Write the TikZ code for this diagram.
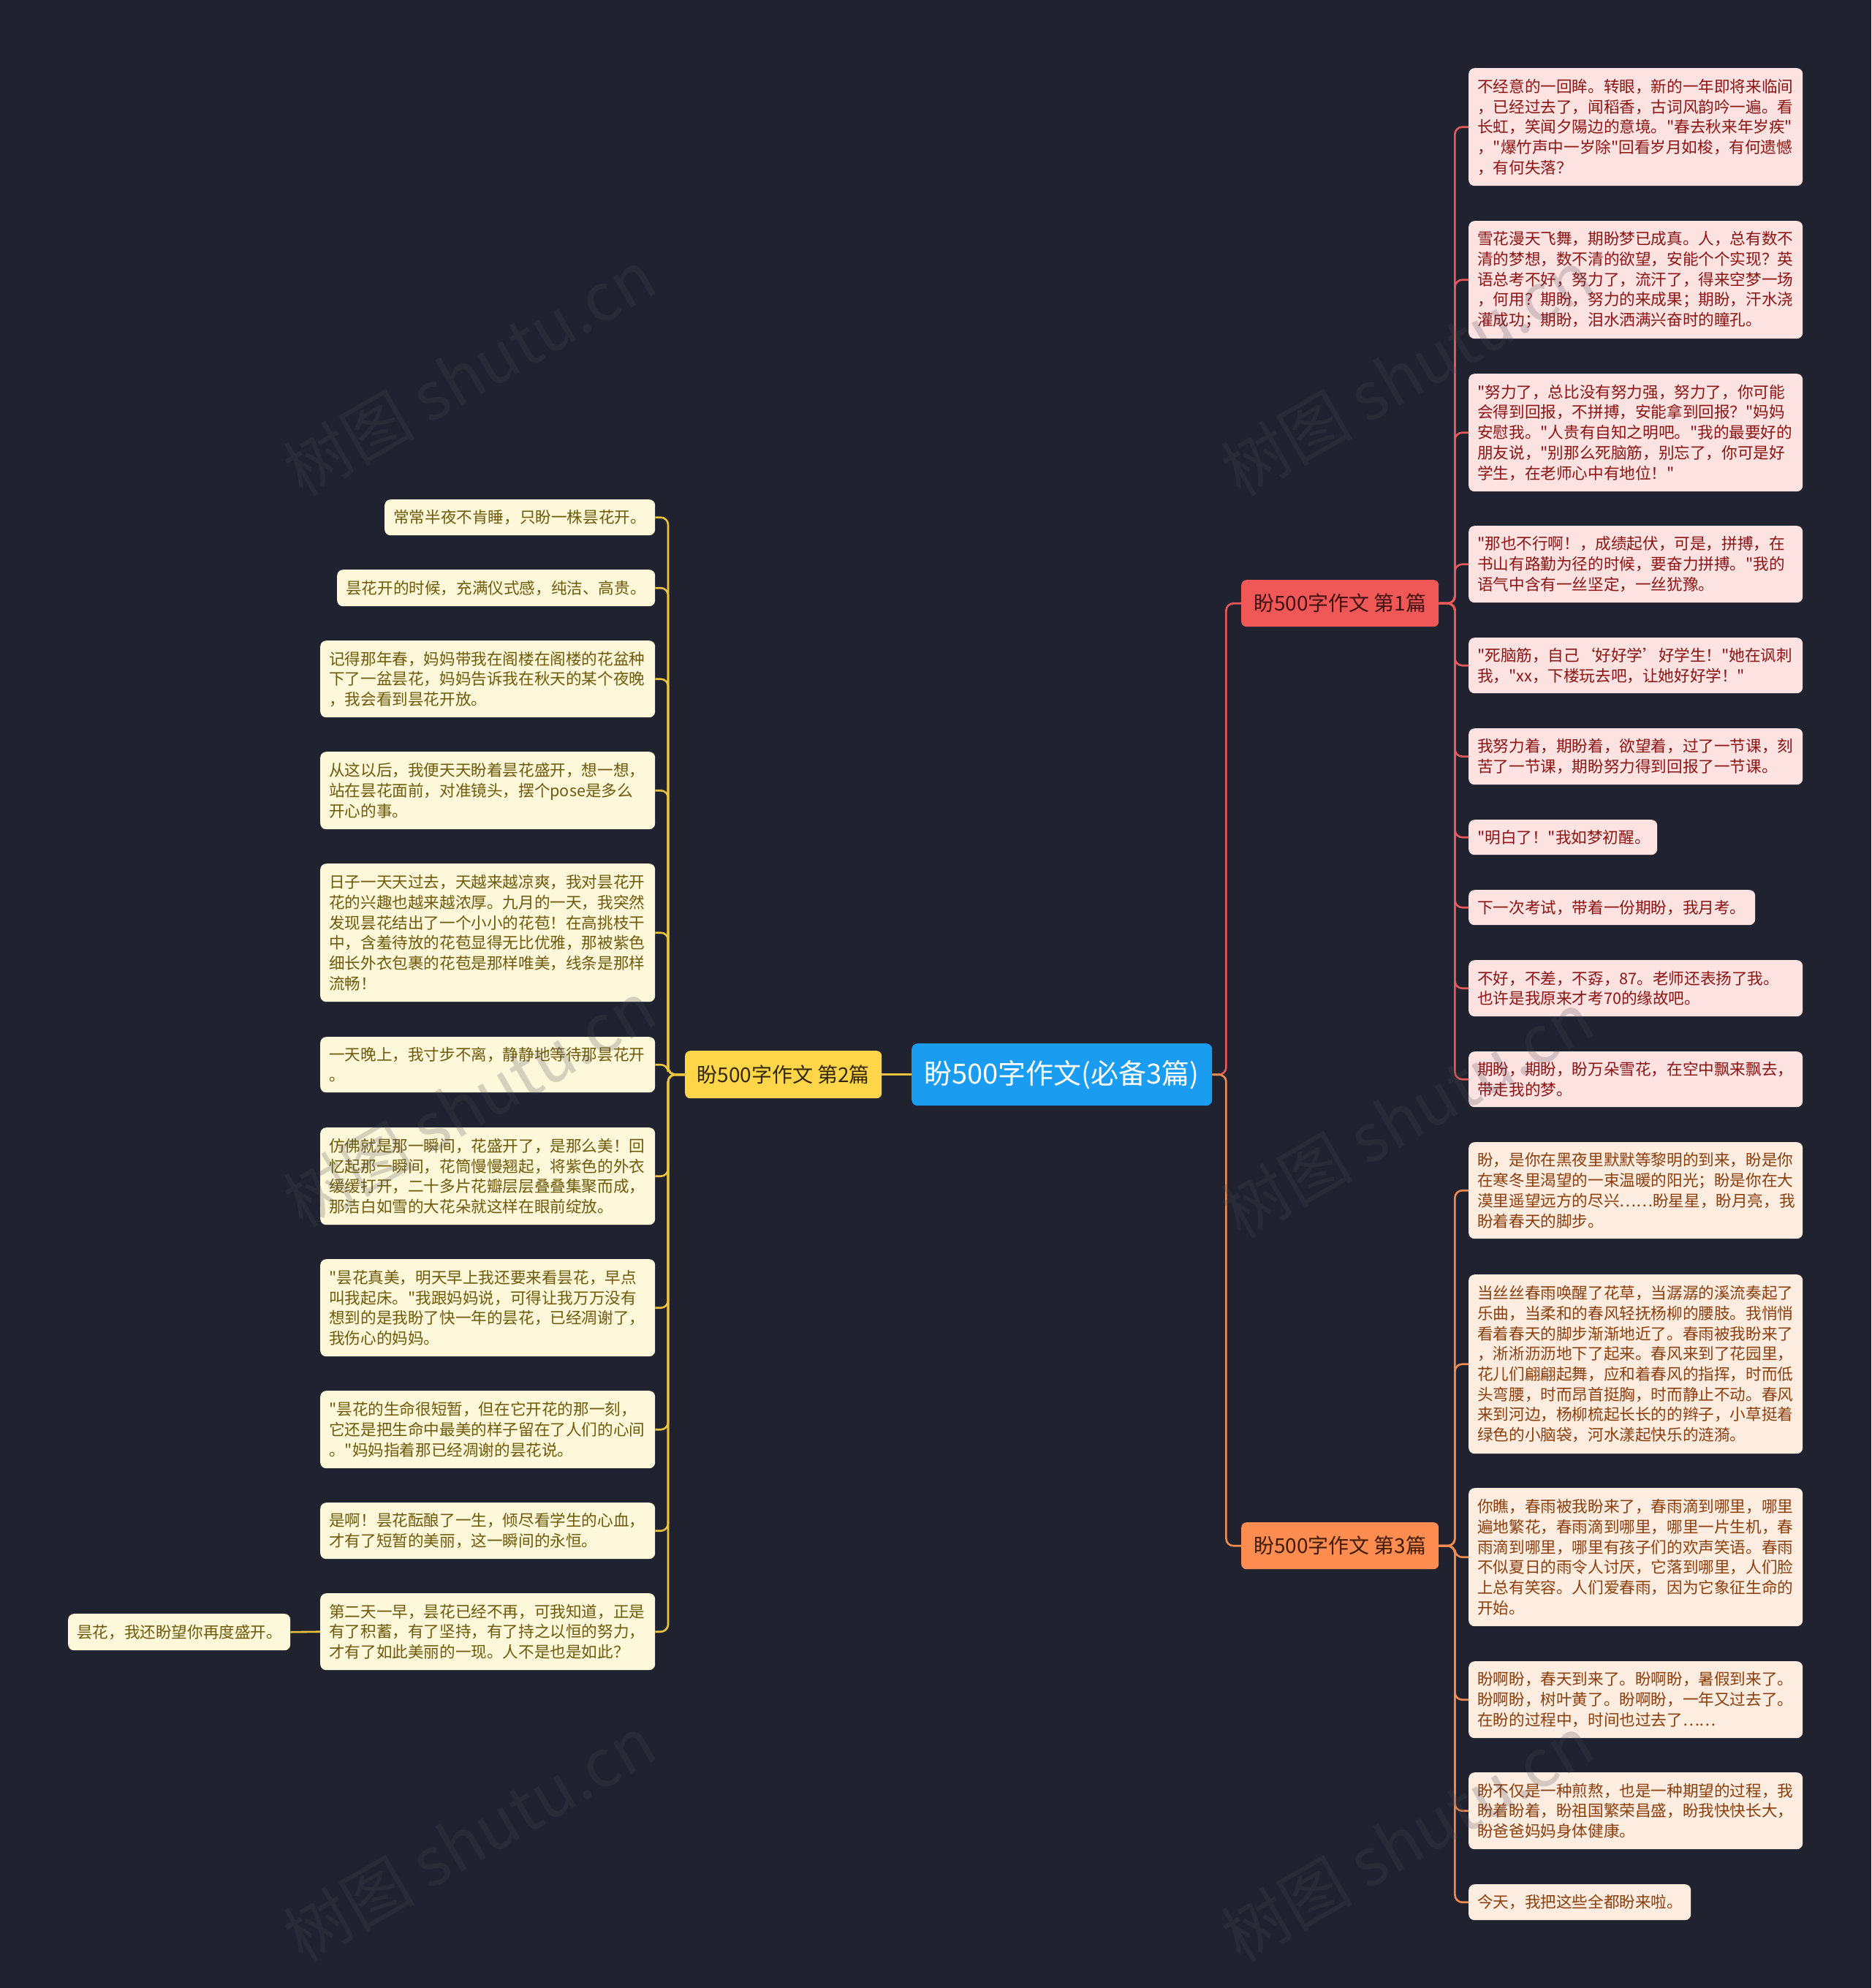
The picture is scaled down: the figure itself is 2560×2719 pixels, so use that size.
\documentclass[tikz,border=0pt]{standalone}
\usepackage{fontspec}
\setmainfont{Noto Sans CJK SC}[Ligatures=TeXOff]
\hfuzz=200pt \hbadness=10000 \vbadness=10000
\definecolor{bgc}{RGB}{32,35,47}
\definecolor{mainc}{RGB}{26,156,240}
\definecolor{redb}{RGB}{240,88,88}
\definecolor{redbt}{RGB}{65,18,18}
\definecolor{yelb}{RGB}{255,213,74}
\definecolor{yelbt}{RGB}{50,40,5}
\definecolor{orab}{RGB}{255,140,80}
\definecolor{orabt}{RGB}{65,28,5}
\definecolor{redf}{RGB}{253,226,226}
\definecolor{redt}{RGB}{140,20,20}
\definecolor{oraf}{RGB}{253,236,224}
\definecolor{orat}{RGB}{140,62,12}
\definecolor{yelf}{RGB}{254,248,218}
\definecolor{yelt}{RGB}{110,90,10}
\definecolor{redl}{RGB}{232,90,90}
\definecolor{oral}{RGB}{240,140,80}
\definecolor{yell}{RGB}{235,195,60}
\definecolor{wmc}{RGB}{70,70,82}
\begin{document}
\begin{tikzpicture}[x=1pt,y=-1pt,
  childbox/.style={rounded corners=8pt, anchor=north west, inner xsep=12pt, inner ysep=0pt, align=left,
     font=\fontsize{21.6pt}{27.7pt}\selectfont},
  rbox/.style={childbox, fill=redf, text=redt},
  obox/.style={childbox, fill=oraf, text=orat},
  ybox/.style={childbox, fill=yelf, text=yelt},
  branchbox/.style={rounded corners=7pt, anchor=north west, inner sep=0pt, align=center,
     font=\fontsize{28pt}{32pt}\selectfont},
  mainnode/.style={rounded corners=8pt, anchor=north west, inner sep=0pt, align=center, fill=mainc, text=white,
     font=\fontsize{38pt}{44pt}\selectfont},
  conn/.style={line width=2.6pt, rounded corners=10pt},
  redline/.style={conn, draw=redl},
  oraline/.style={conn, draw=oral},
  yelline/.style={conn, draw=yell},
  wmark/.style={text=wmc, opacity=0.22, rotate=30, font=\fontsize{90pt}{100pt}\selectfont}
]
\path[use as bounding box, fill=bgc] (0,0) rectangle (2560,2719);

% main and branches
\node[mainnode, minimum width=411pt, minimum height=85pt] (m) at (1247,1427) {盼500字作文(必备3篇)};
\node[branchbox, fill=redb, text=redbt, minimum width=270pt, minimum height=64pt] (b1) at (1698,793) {盼500字作文 第1篇};
\node[branchbox, fill=yelb, text=yelbt, minimum width=269pt, minimum height=65pt] (b2) at (937,1437) {盼500字作文 第2篇};
\node[branchbox, fill=orab, text=orabt, minimum width=270pt, minimum height=64pt] (b3) at (1698,2082) {盼500字作文 第3篇};

% branch 1 children
\node[rbox, text width=433pt, minimum height=161pt] (r1) at (2009,93) {不经意的一回眸。转眼，新的一年即将来临间\\，已经过去了，闻稻香，古词风韵吟一遍。看\\长虹，笑闻夕陽边的意境。"春去秋来年岁疾"\\，"爆竹声中一岁除"回看岁月如梭，有何遗憾\\，有何失落？};
\node[rbox, text width=433pt, minimum height=161pt] (r2) at (2009,302) {雪花漫天飞舞，期盼梦已成真。人，总有数不\\清的梦想，数不清的欲望，安能个个实现？英\\语总考不好，努力了，流汗了，得来空梦一场\\，何用？期盼，努力的来成果；期盼，汗水浇\\灌成功；期盼，泪水洒满兴奋时的瞳孔。};
\node[rbox, text width=433pt, minimum height=161pt] (r3) at (2009,511) {"努力了，总比没有努力强，努力了，你可能\\会得到回报，不拼搏，安能拿到回报？"妈妈\\安慰我。"人贵有自知之明吧。"我的最要好的\\朋友说，"别那么死脑筋，别忘了，你可是好\\学生，在老师心中有地位！"};
\node[rbox, text width=433pt, minimum height=105pt] (r4) at (2009,719) {"那也不行啊！，成绩起伏，可是，拼搏，在\\书山有路勤为径的时候，要奋力拼搏。"我的\\语气中含有一丝坚定，一丝犹豫。};
\node[rbox, text width=433pt, minimum height=76pt] (r5) at (2009,872) {"死脑筋，自己‘好好学’好学生！"她在讽刺\\我，"xx，下楼玩去吧，让她好好学！"};
\node[rbox, text width=433pt, minimum height=77pt] (r6) at (2009,996) {我努力着，期盼着，欲望着，过了一节课，刻\\苦了一节课，期盼努力得到回报了一节课。};
\node[rbox, text width=234pt, minimum height=48pt] (r7) at (2009,1121) {"明白了！"我如梦初醒。};
\node[rbox, text width=368pt, minimum height=48pt] (r8) at (2009,1217) {下一次考试，带着一份期盼，我月考。};
\node[rbox, text width=433pt, minimum height=77pt] (r9) at (2009,1313) {不好，不差，不孬，87。老师还表扬了我。\\也许是我原来才考70的缘故吧。};
\node[rbox, text width=433pt, minimum height=76pt] (r10) at (2009,1438) {期盼，期盼，盼万朵雪花，在空中飘来飘去，\\带走我的梦。};

% branch 3 children
\node[obox, text width=433pt, minimum height=132pt] (o1) at (2009,1562) {盼，是你在黑夜里默默等黎明的到来，盼是你\\在寒冬里渴望的一束温暖的阳光；盼是你在大\\漠里遥望远方的尽兴……盼星星，盼月亮，我\\盼着春天的脚步。};
\node[obox, text width=433pt, minimum height=245pt] (o2) at (2009,1743) {当丝丝春雨唤醒了花草，当潺潺的溪流奏起了\\乐曲，当柔和的春风轻抚杨柳的腰肢。我悄悄\\看着春天的脚步渐渐地近了。春雨被我盼来了\\，淅淅沥沥地下了起来。春风来到了花园里，\\花儿们翩翩起舞，应和着春风的指挥，时而低\\头弯腰，时而昂首挺胸，时而静止不动。春风\\来到河边，杨柳梳起长长的的辫子，小草挺着\\绿色的小脑袋，河水漾起快乐的涟漪。};
\node[obox, text width=433pt, minimum height=189pt] (o3) at (2009,2035) {你瞧，春雨被我盼来了，春雨滴到哪里，哪里\\遍地繁花，春雨滴到哪里，哪里一片生机，春\\雨滴到哪里，哪里有孩子们的欢声笑语。春雨\\不似夏日的雨令人讨厌，它落到哪里，人们脸\\上总有笑容。人们爱春雨，因为它象征生命的\\开始。};
\node[obox, text width=433pt, minimum height=105pt] (o4) at (2009,2272) {盼啊盼，春天到来了。盼啊盼，暑假到来了。\\盼啊盼，树叶黄了。盼啊盼，一年又过去了。\\在盼的过程中，时间也过去了……};
\node[obox, text width=433pt, minimum height=105pt] (o5) at (2009,2424) {盼不仅是一种煎熬，也是一种期望的过程，我\\盼着盼着，盼祖国繁荣昌盛，盼我快快长大，\\盼爸爸妈妈身体健康。};
\node[obox, text width=280pt, minimum height=49pt] (o6) at (2009,2577) {今天，我把这些全都盼来啦。};

% branch 2 children
\node[ybox, text width=346pt, minimum height=49pt] (y1) at (526,683) {常常半夜不肯睡，只盼一株昙花开。};
\node[ybox, text width=411pt, minimum height=50pt] (y2) at (461,779) {昙花开的时候，充满仪式感，纯洁、高贵。};
\node[ybox, text width=434pt, minimum height=105pt] (y3) at (438,876) {记得那年春，妈妈带我在阁楼在阁楼的花盆种\\下了一盆昙花，妈妈告诉我在秋天的某个夜晚\\，我会看到昙花开放。};
\node[ybox, text width=434pt, minimum height=106pt] (y4) at (438,1028) {从这以后，我便天天盼着昙花盛开，想一想，\\站在昙花面前，对准镜头，摆个pose是多么\\开心的事。};
\node[ybox, text width=434pt, minimum height=189pt] (y5) at (438,1181) {日子一天天过去，天越来越凉爽，我对昙花开\\花的兴趣也越来越浓厚。九月的一天，我突然\\发现昙花结出了一个小小的花苞！在高挑枝干\\中，含羞待放的花苞显得无比优雅，那被紫色\\细长外衣包裹的花苞是那样唯美，线条是那样\\流畅！};
\node[ybox, text width=434pt, minimum height=76pt] (y6) at (438,1418) {一天晚上，我寸步不离，静静地等待那昙花开\\。};
\node[ybox, text width=434pt, minimum height=133pt] (y7) at (438,1542) {仿佛就是那一瞬间，花盛开了，是那么美！回\\忆起那一瞬间，花筒慢慢翘起，将紫色的外衣\\缓缓打开，二十多片花瓣层层叠叠集聚而成，\\那洁白如雪的大花朵就这样在眼前绽放。};
\node[ybox, text width=434pt, minimum height=133pt] (y8) at (438,1722) {"昙花真美，明天早上我还要来看昙花，早点\\叫我起床。"我跟妈妈说，可得让我万万没有\\想到的是我盼了快一年的昙花，已经凋谢了，\\我伤心的妈妈。};
\node[ybox, text width=434pt, minimum height=106pt] (y9) at (438,1902) {"昙花的生命很短暂，但在它开花的那一刻，\\它还是把生命中最美的样子留在了人们的心间\\。"妈妈指着那已经凋谢的昙花说。};
\node[ybox, text width=434pt, minimum height=77pt] (y10) at (438,2055) {是啊！昙花酝酿了一生，倾尽看学生的心血，\\才有了短暂的美丽，这一瞬间的永恒。};
\node[ybox, text width=434pt, minimum height=105pt] (y11) at (438,2179) {第二天一早，昙花已经不再，可我知道，正是\\有了积蓄，有了坚持，有了持之以恒的努力，\\才有了如此美丽的一现。人不是也是如此？};
\node[ybox, text width=280pt, minimum height=50pt] (y12) at (93,2207) {昙花，我还盼望你再度盛开。};

% connectors
\draw[redline] (m.east) -- ++(19,0) |- (b1.west);
\draw[oraline] (m.east) -- ++(19,0) |- (b3.west);
\draw[yelline] (m.west) -- (b2.east);
\foreach \k in {r1,r2,r3,r4,r5,r6,r7,r8,r9,r10} {\draw[redline] (b1.east) -- ++(22,0) |- (\k.west);}
\foreach \k in {o1,o2,o3,o4,o5,o6} {\draw[oraline] (b3.east) -- ++(22,0) |- (\k.west);}
\foreach \k in {y1,y2,y3,y4,y5,y6,y7,y8,y9,y10,y11} {\draw[yelline] (b2.west) -- ++(-23,0) |- (\k.east);}
\draw[yelline] (y11.west) -- (y12.east);

% watermarks
\node[wmark] (w1) at (642,510) {树图 shutu.cn};
\node[wmark] (w2) at (1925,510) {树图 shutu.cn};
\node[wmark] (w3) at (642,1510) {树图 shutu.cn};
\node[wmark] (w4) at (1925,1525) {树图 shutu.cn};
\node[wmark] (w5) at (642,2515) {树图 shutu.cn};
\node[wmark] (w6) at (1925,2515) {树图 shutu.cn};
\end{tikzpicture}
\end{document}
